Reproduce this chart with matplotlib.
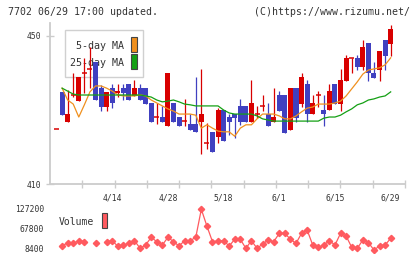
import numpy as np
import matplotlib
matplotlib.use("Agg")
import matplotlib.pyplot as plt
from matplotlib.patches import Rectangle

nan = float('nan')

# ---------------- data ----------------
tick_labels = ['4/14', '4/28', '5/18', '6/1', '6/15', '6/29']
tick_index = [10, 20, 30, 40, 50, 60]

opens = [424.8, 434.9, 426.8, 434.1, 432.4, 439.9, 441.0, 443.1, 435.9, 430.9,
         435.9, 434.6, 435.9, 437.0, 433.9, 435.9, 435.9, 431.8, 428.1, 428.1,
         425.8, 431.9, 428.1, 427.0, 426.1, 426.1, 426.8, 421.1, 424.1, 422.8,
         430.0, 428.0, 428.8, 431.1, 431.1, 426.8, 428.8, 431.1, 428.8, 426.8,
         434.1, 434.1, 424.7, 436.0, 431.7, 437.1, 428.8, 434.1, 430.0, 430.0,
         437.1, 431.7, 437.9, 444.1, 444.1, 441.7, 448.0, 439.9, 440.9, 449.0,
         447.9]
highs = [424.8, 434.9, 435.5, 439.9, 438.8, 444.0, 447.1, 443.1, 436.8, 434.8,
         436.9, 437.0, 436.9, 437.0, 438.1, 437.0, 435.9, 431.8, 432.0, 431.1,
         440.0, 431.9, 428.1, 433.0, 428.9, 439.0, 441.1, 426.5, 424.1, 430.6,
         430.0, 429.0, 428.8, 433.0, 431.1, 438.1, 431.1, 434.1, 431.9, 436.0,
         435.0, 434.1, 436.0, 436.0, 440.1, 438.1, 434.1, 435.0, 434.1, 437.1,
         437.1, 441.1, 444.9, 444.1, 444.9, 449.0, 448.0, 442.9, 445.9, 449.0,
         453.0]
lows = [424.8, 428.7, 426.8, 433.5, 432.4, 434.7, 435.9, 432.7, 429.8, 429.8,
        430.5, 433.4, 432.7, 432.8, 433.9, 432.8, 431.7, 426.8, 426.2, 426.8,
        425.8, 426.8, 425.8, 425.8, 424.7, 424.0, 418.0, 419.4, 418.7, 421.0,
        421.7, 423.3, 422.5, 425.9, 426.8, 426.8, 427.8, 429.7, 425.8, 426.8,
        429.7, 423.9, 424.7, 426.8, 430.9, 426.8, 428.8, 430.9, 425.8, 430.0,
        431.7, 429.7, 437.9, 439.9, 440.9, 440.9, 437.9, 438.7, 437.9, 440.9,
        444.7]
closes = [424.8, 428.7, 428.9, 434.1, 438.8, 439.9, 441.0, 432.7, 430.9, 434.8,
          431.8, 435.2, 434.7, 432.8, 435.9, 432.8, 431.7, 426.8, 428.1, 426.8,
          440.0, 426.8, 425.8, 427.0, 424.7, 424.0, 428.9, 421.1, 418.7, 430.0,
          421.7, 426.8, 427.8, 426.8, 426.8, 431.9, 428.8, 431.1, 425.8, 428.1,
          429.7, 423.9, 436.0, 427.9, 439.0, 428.8, 431.9, 434.1, 428.8, 435.0,
          431.7, 438.1, 444.1, 444.1, 441.7, 447.0, 439.9, 438.7, 445.9, 444.7,
          452.0]

ma5 = [nan, 435.9, 432.7, 431.6, 428.1, 431.4, 434.9, 436.5, 436.5, 435.9,
       435.1, 434.1, 433.8, 433.8, 433.8, 434.1, 433.8, 432.7, 431.9, 431.1,
       430.3, 429.7, 428.9, 428.9, 428.9, 428.6, 425.1, 426.0, 425.1, 424.3,
       424.1, 424.1, 422.9, 425.1, 426.0, 426.0, 427.6, 428.9, 428.9, 428.9,
       428.4, 427.6, 427.6, 428.4, 429.5, 430.5, 430.8, 431.6, 431.6, 431.6,
       431.9, 432.4, 433.8, 435.7, 437.6, 439.7, 440.8, 441.1, 441.4, 442.2,
       444.1]
ma25 = [nan, 435.9, 435.1, 434.3, 434.05, 434.05, 434.05, 434.05, 434.05, 434.05,
        434.05, 434.05, 434.05, 434.05, 434.05, 434.05, 433.8, 433.5, 432.7, 432.2,
        432.4, 432.7, 432.2, 431.6, 431.4, 431.1, 431.1, 431.1, 431.1, 431.1,
        430.0, 429.2, 428.9, 428.9, 428.9, 428.9, 428.4, 427.6, 427.3, 427.0,
        427.0, 427.0, 427.0, 427.0, 427.0, 427.0, 427.0, 427.0, 427.8, 428.1,
        428.1, 428.6, 429.5, 430.3, 431.4, 431.9, 432.7, 433.0, 433.5, 433.8,
        434.9]

volume = [nan, 17300, 27200, 25200, 33200, 30200, nan, 25200, nan, 30200,
          32000, 17300, 20300, 25200, 33200, 10400, 20300, 43000, 30200, 20300,
          43000, 30200, 17300, 33200, 33200, 43000, 126300, 76700, 30200, 32000,
          33200, 17300, 37100, 37100, 10400, 33200, 10400, 23000, 35100, 30200,
          55000, 55000, 37100, 25200, 55000, 64800, 20300, 13400, 20300, 33200,
          20300, 55000, 47000, 13400, 10400, 35100, 27200, 5400, 17300, 20300,
          40000]
vol_ticks = [8400, 67800, 127200]
price_ticks = [410, 450]

# ---------------- styling ----------------
RED = '#d80000'
BLUE = '#4040c0'
ORANGE = '#f0901e'
GREEN = '#14a014'
VCOL = '#ff5a5f'
GRID = '#cccccc'
TXT = '#333333'
MONO = 'DejaVu Sans Mono'

W, H = 420, 259
fig = plt.figure(figsize=(W / 100, H / 100), dpi=100)

def fx(px):
    return px / W

def fy(py):
    return 1 - py / H

# main axes: x 50..405 px, y 23..184 px
ax = fig.add_axes([fx(50), fy(184), fx(355), (184 - 23) / H])
n = len(closes)
xs = np.arange(n)
xlim = (-1.17, 62.57)
ax.set_xlim(*xlim)
ax.set_ylim(410, 453.51)

for s in ['top', 'right']:
    ax.spines[s].set_visible(False)
for s in ['left', 'bottom']:
    ax.spines[s].set_color(GRID)
    ax.spines[s].set_linewidth(1.3)

for i in range(n):
    o, h, l, c = opens[i], highs[i], lows[i], closes[i]
    col = RED if c >= o else BLUE
    if h > l:
        ax.vlines(i, l, h, color=col, lw=0.9, zorder=3)
    if abs(c - o) < 0.35:
        ax.hlines(o, i - 0.45, i + 0.45, color=col, lw=1.1, zorder=4)
    else:
        ax.bar(i, c - o, bottom=o, width=0.9, color=col, linewidth=0, zorder=4)

ax.plot(xs, ma5, color=ORANGE, lw=0.9, zorder=5)
ax.plot(xs, ma25, color=GREEN, lw=0.9, zorder=5)

ax.set_yticks(price_ticks)
ax.set_yticklabels([str(t) for t in price_ticks], family=MONO, fontsize=5.8, color=TXT)
ax.tick_params(axis='y', direction='inout', length=6, width=1.0, color=GRID, pad=3.5)

ax.set_xticks(tick_index)
ax.set_xticklabels(tick_labels, family=MONO, fontsize=5.8, color=TXT)
ax.tick_params(axis='x', which='major', length=0, pad=7)
minor = [xlim[0] + k / 11 * (xlim[1] - xlim[0]) for k in range(1, 12)]
ax.set_xticks(minor, minor=True)
ax.tick_params(axis='x', which='minor', direction='inout', length=6, width=1.0, color=GRID)

# legend (drawn behind candles)
def axp(px, py):
    return ((px - 50) / 355, (184 - py) / 161)

x0, y0 = axp(65.3, 77)
x1, y1 = axp(143.3, 30)
ax.add_patch(Rectangle((x0, y0), x1 - x0, y1 - y0, transform=ax.transAxes,
                       facecolor='white', edgecolor='#d0d0d0', lw=1.0, zorder=1))
tx, ty = axp(124.5, 46)
ax.text(tx, ty, '5-day MA', transform=ax.transAxes, ha='right', va='center',
        family=MONO, fontsize=7.2, color=TXT, zorder=2)
tx, ty = axp(124.5, 63)
ax.text(tx, ty, '25-day MA', transform=ax.transAxes, ha='right', va='center',
        family=MONO, fontsize=7.2, color=TXT, zorder=2)
for (ya, yb, col) in [(52.3, 37.3, ORANGE), (69.3, 54.3, GREEN)]:
    a0, b0 = axp(131.3, ya)
    a1, b1 = axp(137.3, yb)
    ax.add_patch(Rectangle((a0, b0), a1 - a0, b1 - b0, transform=ax.transAxes,
                           facecolor=col, edgecolor='#444444', lw=0.8, zorder=2))

# volume axes: x 50..405, y 205..253 px
vax = fig.add_axes([fx(50), fy(253), fx(355), 48 / H])
vax.set_xlim(*xlim)
vax.set_ylim(-3480, 139080)
for s in vax.spines.values():
    s.set_visible(False)
vax.plot(xs, volume, '-', color=VCOL, lw=0.9, marker='D', ms=3.2,
         mfc=VCOL, mec=VCOL, zorder=3)
vax.set_xticks([])
vax.set_yticks(vol_ticks)
vax.set_yticklabels([str(t) for t in vol_ticks], family=MONO, fontsize=5.8, color=TXT)
vax.tick_params(axis='y', length=0, pad=4.3)

vax.text((59 - 50) / 355, (253 - 222.3) / 48, 'Volume', transform=vax.transAxes,
         ha='left', va='center', family=MONO, fontsize=7.0, color=TXT)
vax.add_patch(Rectangle(((101.7 - 50) / 355, (253 - 228) / 48), 5.6 / 355, 15 / 48,
                        transform=vax.transAxes, facecolor=VCOL, edgecolor='#444444',
                        lw=0.8, zorder=4))

fig.text(fx(8), fy(12.3), '7702 06/29 17:00 updated.', ha='left', va='center',
         family=MONO, fontsize=7.1, color=TXT)
fig.text(fx(410), fy(12.3), '(C)https://www.rizumu.net/', ha='right', va='center',
         family=MONO, fontsize=7.1, color=TXT)

fig.savefig('out.png', dpi=100)
